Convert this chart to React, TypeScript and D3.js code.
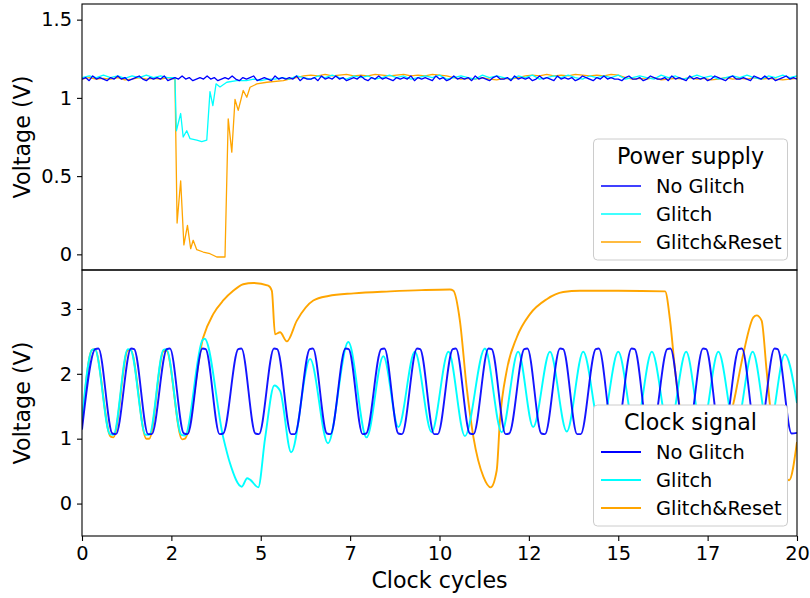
import React, { useEffect, useRef } from 'react';
import * as d3 from 'd3';

const width = 810;
const height = 598;

// x ticks every 2.5 cycles, labelled like matplotlib's %d (integer part)
const xTicks = [0, 2.5, 5, 7.5, 10, 12.5, 15, 17.5, 20];
const powerTicks = [0, 0.5, 1, 1.5];
const clockTicks = [0, 1, 2, 3];
const seriesNames = ['No Glitch', 'Glitch', 'Glitch&Reset'];
const seriesColors = ['#0000ff', '#00ffff', '#ffa500'];

// ---------- power supply (V), No Glitch, one sample every 0.1 cycle ----------
const powerNoGlitch = [
  1.12, 1.13, 1.11, 1.14, 1.12, 1.13, 1.12, 1.11, 1.13, 1.12,
  1.14, 1.12, 1.13, 1.11, 1.12, 1.13, 1.14, 1.12, 1.11, 1.13,
  1.12, 1.13, 1.12, 1.14, 1.11, 1.12, 1.13, 1.12, 1.14, 1.12,
  1.13, 1.11, 1.12, 1.13, 1.12, 1.14, 1.12, 1.13, 1.11, 1.12,
  1.13, 1.12, 1.14, 1.12, 1.11, 1.13, 1.12, 1.13, 1.14, 1.11,
  1.12, 1.13, 1.12, 1.11, 1.14, 1.12, 1.13, 1.12, 1.13, 1.12,
  1.14, 1.11, 1.13, 1.12, 1.12, 1.13, 1.11, 1.14, 1.12, 1.13,
  1.12, 1.14, 1.12, 1.13, 1.11, 1.12, 1.13, 1.12, 1.14, 1.12,
  1.11, 1.13, 1.12, 1.14, 1.12, 1.13, 1.12, 1.11, 1.13, 1.12,
  1.13, 1.12, 1.14, 1.11, 1.13, 1.12, 1.13, 1.12, 1.11, 1.14,
  1.12, 1.13, 1.11, 1.12, 1.14, 1.12, 1.13, 1.12, 1.13, 1.11,
  1.14, 1.12, 1.13, 1.12, 1.11, 1.13, 1.14, 1.12, 1.12, 1.13,
  1.11, 1.14, 1.12, 1.13, 1.12, 1.13, 1.11, 1.12, 1.14, 1.12,
  1.13, 1.12, 1.11, 1.14, 1.12, 1.13, 1.12, 1.13, 1.11, 1.12,
  1.14, 1.13, 1.12, 1.11, 1.13, 1.12, 1.14, 1.12, 1.13, 1.12,
  1.12, 1.11, 1.13, 1.14, 1.12, 1.12, 1.13, 1.11, 1.12, 1.14,
  1.13, 1.12, 1.12, 1.13, 1.11, 1.14, 1.12, 1.13, 1.12, 1.11,
  1.14, 1.12, 1.13, 1.12, 1.13, 1.11, 1.12, 1.14, 1.13, 1.12,
  1.11, 1.13, 1.14, 1.12, 1.12, 1.13, 1.12, 1.11, 1.14, 1.13,
  1.12, 1.14, 1.12, 1.13, 1.11, 1.12, 1.13, 1.14, 1.12, 1.13,
  1.12,
];

// ---------- power supply, Glitch: before (every 0.2 from 0), dip [t, V], after (every 0.2 from 4.6) ----------
const powerGlitchBefore = [1.13, 1.14, 1.13, 1.145, 1.13, 1.14, 1.125, 1.14, 1.13, 1.145, 1.13, 1.14, 1.13, 1.13];
const powerGlitchDip = [
  [2.64, 0.79], [2.76, 0.9], [2.83, 0.75], [2.93, 0.79], [3.02, 0.74], [3.21, 0.73], [3.35, 0.72],
  [3.49, 0.73], [3.58, 1.04], [3.66, 0.95], [3.75, 1.09], [3.86, 1.07], [4.05, 1.1], [4.33, 1.11],
];
const powerGlitchAfter = [
  1.11, 1.12, 1.11, 1.12, 1.12, 1.13, 1.12, 1.14, 1.13, 1.12,
  1.14, 1.13, 1.145, 1.13, 1.12, 1.14, 1.13, 1.14, 1.12, 1.13,
  1.145, 1.13, 1.14, 1.12, 1.13, 1.14, 1.13, 1.145, 1.12, 1.13,
  1.14, 1.13, 1.12, 1.145, 1.13, 1.14, 1.13, 1.12, 1.14, 1.13,
  1.145, 1.12, 1.13, 1.14, 1.13, 1.145, 1.13, 1.12, 1.14, 1.13,
  1.14, 1.13, 1.145, 1.12, 1.13, 1.14, 1.13, 1.12, 1.145, 1.13,
  1.14, 1.12, 1.13, 1.145, 1.13, 1.14, 1.12, 1.13, 1.14, 1.13,
  1.145, 1.13, 1.12, 1.14, 1.13, 1.145, 1.13, 1.14,
];

// ---------- power supply, Glitch&Reset: before (every 0.2 from 0), dip [t, V], after (every 0.2 from 5.8) ----------
const powerResetBefore = [1.12, 1.13, 1.12, 1.125, 1.12, 1.13, 1.115, 1.12, 1.13, 1.12, 1.125, 1.12, 1.13, 1.12];
const powerResetDip = [
  [2.66, 0.2], [2.76, 0.47], [2.85, 0.06], [2.95, 0.185], [3.04, 0.036], [3.11, 0.09], [3.21, 0.03],
  [3.39, 0.015], [3.58, 0.004], [3.77, -0.017], [4.0, -0.017], [4.09, 0.866], [4.19, 0.653], [4.28, 0.99],
  [4.37, 0.92], [4.51, 1.047], [4.61, 1.004], [4.7, 1.068], [4.89, 1.089], [5.17, 1.1], [5.63, 1.11],
];
const powerResetAfter = [
  1.12, 1.13, 1.14, 1.145, 1.14, 1.15, 1.14, 1.145, 1.15, 1.14,
  1.145, 1.14, 1.15, 1.145, 1.14, 1.145, 1.15, 1.14, 1.145, 1.14,
  1.15, 1.145, 1.14, 1.13, 1.12, 1.125, 1.12, 1.13, 1.12, 1.115,
  1.125, 1.12, 1.13, 1.14, 1.145, 1.14, 1.15, 1.14, 1.145, 1.14,
  1.15, 1.145, 1.14, 1.145, 1.14, 1.15, 1.145, 1.13, 1.12, 1.125,
  1.12, 1.13, 1.115, 1.12, 1.125, 1.12, 1.13, 1.12, 1.125, 1.115,
  1.12, 1.13, 1.12, 1.125, 1.12, 1.13, 1.12, 1.125, 1.12, 1.115,
  1.12, 1.125,
];

// ---------- clock signal (V), [cycle, V] ----------
const clockNoGlitch = [
  [0, 1.14],
  [0.37, 2.38], [0.46, 2.39], [0.85, 1.08], [0.95, 1.07],
  [1.37, 2.39], [1.46, 2.38], [1.85, 1.07], [1.95, 1.07],
  [2.37, 2.38], [2.46, 2.39], [2.85, 1.08], [2.95, 1.07],
  [3.37, 2.39], [3.46, 2.38], [3.85, 1.07], [3.95, 1.08],
  [4.37, 2.38], [4.46, 2.39], [4.85, 1.08], [4.95, 1.07],
  [5.37, 2.39], [5.46, 2.38], [5.85, 1.07], [5.95, 1.07],
  [6.37, 2.38], [6.46, 2.39], [6.85, 1.08], [6.95, 1.07],
  [7.37, 2.39], [7.46, 2.38], [7.85, 1.07], [7.95, 1.08],
  [8.37, 2.38], [8.46, 2.39], [8.85, 1.08], [8.95, 1.07],
  [9.37, 2.39], [9.46, 2.38], [9.85, 1.07], [9.95, 1.07],
  [10.37, 2.38], [10.46, 2.39], [10.85, 1.08], [10.95, 1.07],
  [11.37, 2.39], [11.46, 2.38], [11.85, 1.07], [11.95, 1.08],
  [12.37, 2.38], [12.46, 2.39], [12.85, 1.08], [12.95, 1.07],
  [13.37, 2.39], [13.46, 2.38], [13.85, 1.07], [13.95, 1.07],
  [14.37, 2.38], [14.46, 2.39], [14.85, 1.08], [14.95, 1.07],
  [15.37, 2.39], [15.46, 2.38], [15.85, 1.07], [15.95, 1.08],
  [16.37, 2.38], [16.46, 2.39], [16.85, 1.08], [16.95, 1.07],
  [17.37, 2.39], [17.46, 2.38], [17.85, 1.07], [17.95, 1.07],
  [18.37, 2.38], [18.46, 2.39], [18.85, 1.08], [18.95, 1.07],
  [19.37, 2.39], [19.46, 2.38], [19.85, 1.08], [20, 1.09],
];

const clockGlitch = [
  [0, 1.28],
  [0.28, 2.37], [0.36, 2.38], [0.78, 1.07], [0.88, 1.06],
  [1.28, 2.38], [1.36, 2.37], [1.78, 1.06], [1.88, 1.06],
  [2.28, 2.37], [2.36, 2.38], [2.78, 1.06], [2.88, 1.05],
  [3.37, 2.52], [3.43, 2.54], [3.95, 1.02], [4.14, 0.62], [4.47, 0.26], [4.62, 0.39], [4.7, 0.37],
  [4.93, 0.25], [5.12, 1.0], [5.38, 1.82], [5.54, 1.74], [5.85, 0.79], [6.38, 2.23], [6.88, 0.93],
  [7.45, 2.49], [7.96, 1.02], [8.43, 2.27], [8.85, 1.18], [9.31, 2.34], [9.78, 1.1], [10.25, 2.34],
  [10.71, 1.04], [11.27, 2.39], [11.74, 1.1], [12.2, 2.34], [12.62, 1.18], [13.09, 2.34], [13.56, 1.11],
  [14.02, 2.34], [14.51, 1.12], [15.0, 2.34], [15.47, 1.12], [15.94, 2.34], [16.42, 1.12], [16.9, 2.34],
  [17.34, 1.12], [17.8, 2.34], [18.28, 1.12], [18.76, 2.34], [19.21, 1.12], [19.66, 2.3], [20, 1.55],
];

const clockReset = [
  [0, 1.22],
  [0.28, 2.37], [0.36, 2.38], [0.8, 1.03], [0.88, 1.02],
  [1.28, 2.36], [1.36, 2.37], [1.8, 1.0], [1.88, 1.0],
  [2.28, 2.35], [2.36, 2.36], [2.8, 0.99], [2.88, 1.0],
  [3.39, 2.56], [3.67, 2.92], [3.95, 3.13], [4.23, 3.28], [4.51, 3.38], [4.79, 3.4], [5.21, 3.36],
  [5.31, 3.28], [5.4, 2.61], [5.54, 2.64], [5.73, 2.5], [6.01, 2.82], [6.47, 3.13], [6.89, 3.2],
  [7.6, 3.24], [8.62, 3.27], [9.5, 3.29], [10.29, 3.3], [10.39, 3.28], [10.57, 2.82], [10.76, 1.79],
  [10.95, 1.02], [11.23, 0.41], [11.43, 0.25], [11.6, 0.51], [11.69, 1.28], [11.88, 2.05], [12.16, 2.56],
  [12.53, 2.92], [13.0, 3.15], [13.46, 3.26], [13.93, 3.28], [15.0, 3.28], [16.31, 3.27], [16.45, 2.82],
  [16.59, 2.05], [16.73, 1.44], [17.0, 0.7], [17.4, 0.35], [17.7, 0.6], [18.0, 1.1], [18.22, 1.54],
  [18.5, 2.31], [18.78, 2.87], [18.87, 2.9], [19.01, 2.82], [19.15, 2.05], [19.29, 1.28], [19.55, 0.6],
  [19.78, 0.36], [20, 0.95],
];

const font = "'DejaVu Sans', sans-serif";
const tickFont = 19.4;
const labelFont = 22.2;

// join an evenly sampled run with explicit [t, V] points
function sampled(values, start, step) {
  return values.map((v, i) => [start + i * step, v]);
}

function drawChart(svg) {
  const plot = { left: 82, right: 797, top: 4, split: 270, bottom: 536 };

  const x = d3.scaleLinear().domain([0, 20]).range([plot.left, plot.right]);
  const yPower = d3.scaleLinear().domain([-0.1, 1.6]).range([plot.split, plot.top]);
  const yClock = d3.scaleLinear().domain([-0.5, 3.6]).range([plot.bottom, plot.split]);

  svg.append('rect').attr('width', width).attr('height', height).attr('fill', '#ffffff');

  const defs = svg.append('defs');
  defs.append('clipPath').attr('id', 'clip-power')
    .append('rect').attr('x', plot.left).attr('y', plot.top)
    .attr('width', plot.right - plot.left).attr('height', plot.split - plot.top);
  defs.append('clipPath').attr('id', 'clip-clock')
    .append('rect').attr('x', plot.left).attr('y', plot.split)
    .attr('width', plot.right - plot.left).attr('height', plot.bottom - plot.split);

  // ---------------- power supply panel ----------------
  const powerSeries = [
    sampled(powerNoGlitch, 0, 0.1),
    [...sampled(powerGlitchBefore, 0, 0.2), ...powerGlitchDip, ...sampled(powerGlitchAfter, 4.6, 0.2)],
    [...sampled(powerResetBefore, 0, 0.2), ...powerResetDip, ...sampled(powerResetAfter, 5.8, 0.2)],
  ];
  const powerLine = d3.line().x(d => x(d[0])).y(d => yPower(d[1]));

  const gPower = svg.append('g').attr('clip-path', 'url(#clip-power)');
  // draw reset first, no glitch on top
  [2, 1, 0].forEach(i => {
    gPower.append('path')
      .datum(powerSeries[i])
      .attr('d', powerLine)
      .attr('fill', 'none')
      .attr('stroke', seriesColors[i])
      .attr('stroke-width', 1.3)
      .attr('stroke-linejoin', 'round');
  });

  // ---------------- clock panel ----------------
  const clockSeries = [clockNoGlitch, clockGlitch, clockReset];
  const clockLine = d3.line().x(d => x(d[0])).y(d => yClock(d[1])).curve(d3.curveMonotoneX);

  const gClock = svg.append('g').attr('clip-path', 'url(#clip-clock)');
  [2, 1, 0].forEach(i => {
    gClock.append('path')
      .datum(clockSeries[i])
      .attr('d', clockLine)
      .attr('fill', 'none')
      .attr('stroke', seriesColors[i])
      .attr('stroke-width', 1.9)
      .attr('stroke-opacity', i === 0 ? 0.92 : 1);
  });

  // ---------------- axes ----------------
  const styleAxis = (g) => {
    g.select('.domain').remove();
    g.selectAll('line').attr('stroke', '#000').attr('stroke-width', 1.1);
    g.selectAll('text').attr('font-family', font).attr('font-size', tickFont).attr('fill', '#000');
  };

  svg.append('g')
    .attr('transform', `translate(${plot.left},0)`)
    .call(d3.axisLeft(yPower).tickValues(powerTicks).tickSize(5).tickPadding(5).tickFormat(d3.format('~g')))
    .call(styleAxis);

  svg.append('g')
    .attr('transform', `translate(${plot.left},0)`)
    .call(d3.axisLeft(yClock).tickValues(clockTicks).tickSize(5).tickPadding(5).tickFormat(d3.format('~g')))
    .call(styleAxis);

  svg.append('g')
    .attr('transform', `translate(0,${plot.bottom})`)
    .call(d3.axisBottom(x).tickValues(xTicks).tickSize(5).tickPadding(5).tickFormat(d => String(Math.floor(d))))
    .call(styleAxis);

  // panel frames
  [[plot.top, plot.split], [plot.split, plot.bottom]].forEach(([y0, y1]) => {
    svg.append('rect')
      .attr('x', plot.left).attr('y', y0)
      .attr('width', plot.right - plot.left).attr('height', y1 - y0)
      .attr('fill', 'none').attr('stroke', '#000').attr('stroke-width', 1.1);
  });

  // axis labels
  svg.append('text')
    .attr('x', (plot.left + plot.right) / 2).attr('y', 588)
    .attr('text-anchor', 'middle')
    .attr('font-family', font).attr('font-size', labelFont)
    .text('Clock cycles');

  [[plot.top, plot.split], [plot.split, plot.bottom]].forEach(([y0, y1]) => {
    svg.append('text')
      .attr('transform', `translate(30,${(y0 + y1) / 2}) rotate(-90)`)
      .attr('text-anchor', 'middle')
      .attr('font-family', font).attr('font-size', labelFont)
      .text('Voltage (V)');
  });

  // ---------------- legends ----------------
  const legend = (top, title, lineWidth) => {
    const g = svg.append('g');
    g.append('rect')
      .attr('x', 593.5).attr('y', top)
      .attr('width', 194).attr('height', 121)
      .attr('rx', 4)
      .attr('fill', '#ffffff')
      .attr('stroke', '#cccccc')
      .attr('stroke-width', 1);
    g.append('text')
      .attr('x', 690.5).attr('y', top + 25)
      .attr('text-anchor', 'middle')
      .attr('font-family', font).attr('font-size', labelFont)
      .text(title);
    seriesNames.forEach((name, i) => {
      const base = top + 54 + i * 28;
      g.append('line')
        .attr('x1', 601).attr('x2', 641)
        .attr('y1', base - 7).attr('y2', base - 7)
        .attr('stroke', seriesColors[i])
        .attr('stroke-width', lineWidth);
      g.append('text')
        .attr('x', 656).attr('y', base)
        .attr('font-family', font).attr('font-size', tickFont)
        .text(name);
    });
  };
  legend(139, 'Power supply', 1.3);
  legend(405, 'Clock signal', 1.9);
}

export default function App() {
  const ref = useRef(null);

  useEffect(() => {
    const svg = d3.select(ref.current);
    svg.selectAll('*').remove();
    drawChart(svg);
  }, []);

  return (
    <svg
      ref={ref}
      width={width}
      height={height}
      style={{ position: 'absolute', left: 0, top: 0, display: 'block' }}
    />
  );
}
